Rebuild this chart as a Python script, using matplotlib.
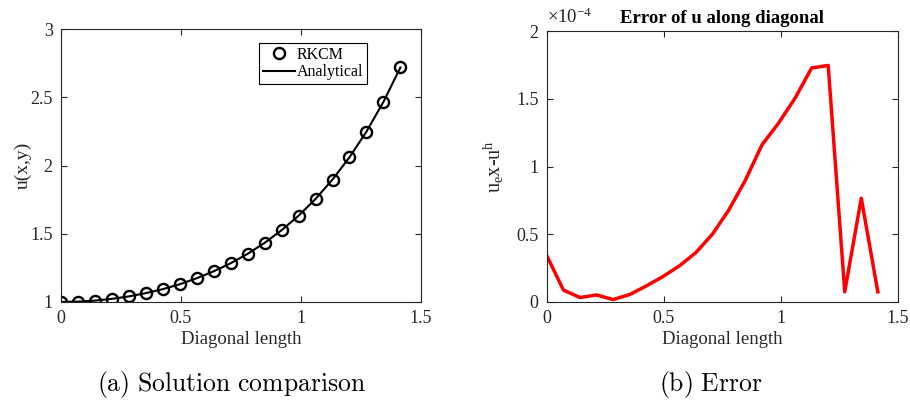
# RKCM solution along the diagonal and its error

import numpy as np
import matplotlib.pyplot as plt
from matplotlib.ticker import FormatStrFormatter

plt.rcParams['font.family'] = ['Liberation Serif', 'DejaVu Serif']
plt.rcParams['mathtext.fontset'] = 'custom'
plt.rcParams['mathtext.rm'] = 'Liberation Serif'
plt.rcParams['mathtext.it'] = 'Liberation Serif:italic'

# Diagonal length of the sample points
diag_len = [0, 0.0707, 0.1414, 0.2121, 0.2828, 0.3536, 0.4243, 0.4950, 0.5657,
            0.6364, 0.7071, 0.7778, 0.8485, 0.9192, 0.9899, 1.0607, 1.1314,
            1.2021, 1.2728, 1.3435, 1.4142]
# RKCM solution and analytical solution
u_rkcm = [1.000, 1.003, 1.010, 1.023, 1.041, 1.065, 1.094, 1.130, 1.174, 1.225,
          1.284, 1.353, 1.433, 1.526, 1.632, 1.755, 1.897, 2.060, 2.248, 2.466,
          2.718]
u_exact = [1.000, 1.003, 1.010, 1.023, 1.041, 1.065, 1.094, 1.130, 1.174, 1.225,
           1.284, 1.353, 1.433, 1.526, 1.632, 1.755, 1.897, 2.060, 2.248, 2.466,
           2.718]
# Error (in units of 1e-4)
err = [0.34, 0.088, 0.033, 0.052, 0.018, 0.055, 0.118, 0.187, 0.266, 0.364,
       0.50, 0.68, 0.90, 1.16, 1.32, 1.505, 1.727, 1.746, 0.075, 0.766, 0.075]

axis_col = '#262626'

fig = plt.figure(figsize=(9.1, 4.0), dpi=100)
ax1 = fig.add_axes([0.067, 0.245, 0.3956, 0.6825])
ax2 = fig.add_axes([0.601, 0.245, 0.3857, 0.6775])


def style(ax):
    ax.tick_params(direction='in', top=True, right=True, length=4, width=0.8,
                   labelsize=13, colors=axis_col, labelcolor=axis_col, pad=6)
    for sp in ax.spines.values():
        sp.set_color(axis_col)
        sp.set_linewidth(0.8)
    ax.xaxis.set_major_formatter(FormatStrFormatter('%g'))
    ax.yaxis.set_major_formatter(FormatStrFormatter('%g'))


# (a) solution comparison
ax1.plot(diag_len, u_rkcm, 'o', color='black', markerfacecolor='none',
         markersize=8, markeredgewidth=1.7, label='RKCM')
ax1.plot(diag_len, u_exact, '-', color='black', linewidth=1.5, label='Analytical')
ax1.set_xlim(0, 1.5)
ax1.set_ylim(1, 3)
ax1.set_xticks([0, 0.5, 1, 1.5])
ax1.set_yticks([1, 1.5, 2, 2.5, 3])
style(ax1)
ax1.set_xlabel('Diagonal length', fontsize=13.5, color=axis_col, labelpad=3)
ax1.set_ylabel('u(x,y)', fontsize=14, color=axis_col, labelpad=-1.5)
leg = ax1.legend(loc='upper right', bbox_to_anchor=(0.85, 0.95), fontsize=11.5,
                 fancybox=False, edgecolor='black', framealpha=1,
                 handlelength=2.0, handletextpad=0.1, borderpad=0.25,
                 labelspacing=0.1, borderaxespad=0)
leg.get_frame().set_linewidth(0.8)

# (b) error
ax2.plot(diag_len, err, '-', color='#ff0000', linewidth=2.5)
ax2.set_xlim(0, 1.5)
ax2.set_ylim(0, 2)
ax2.set_xticks([0, 0.5, 1, 1.5])
ax2.set_yticks([0, 0.5, 1, 1.5, 2])
style(ax2)
ax2.set_xlabel('Diagonal length', fontsize=13.5, color=axis_col, labelpad=3)
ax2.set_ylabel(r'$\mathrm{u_e x}$-$\mathrm{u^h}$', fontsize=14.5, color=axis_col,
               labelpad=7)
ax2.set_title('Error of u along diagonal', fontsize=13.5, fontweight='bold', pad=6)
ax2.text(0.0, 1.015, r'$\times$10$^{-4}$', transform=ax2.transAxes, fontsize=13.5,
         color=axis_col, ha='left', va='bottom')

# sub-captions
fig.text(0.2545, 0.0225, r'$\mathrm{(a)\ Solution\ comparison}$', fontsize=18.5,
         ha='center', va='baseline', math_fontfamily='cm')
fig.text(0.781, 0.0225, r'$\mathrm{(b)\ Error}$', fontsize=18.5,
         ha='center', va='baseline', math_fontfamily='cm')

fig.savefig('out.png', dpi=100)
